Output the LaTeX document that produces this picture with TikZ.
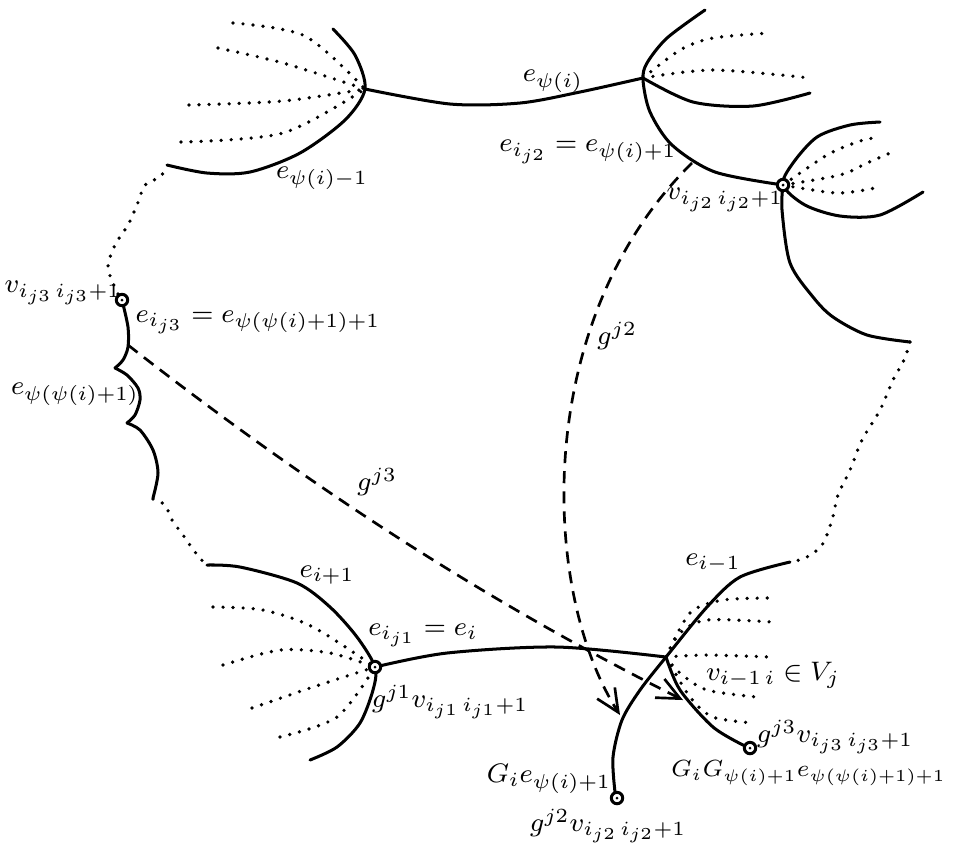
\documentclass[tikz,border=0pt]{standalone}
\usepackage{amsmath,amssymb}
\usetikzlibrary{arrows.meta}
\tikzset{
	>={Straight Barb[length=2.4mm,width=2.2mm]},
	edge/.style={black, line width=0.9pt, line cap=round},
	fan/.style={black, line width=1.1pt, line cap=round, dash pattern=on 0pt off 3pt},
	gmap/.style={black, line width=0.8pt, dash pattern=on 3.6pt off 2.4pt, ->},
	vtx/.style={circle, draw, line width=0.9pt, fill=white, inner sep=0pt, minimum size=3.4pt},
	lab/.style={inner sep=1pt, font=\fontsize{8.1pt}{10pt}\selectfont}
}

\begin{document}
\begin{tikzpicture}[x=0.0105cm, y=-0.0105cm]
	\useasboundingbox (0,0) rectangle (955,851);
	
	% top left fan
	\draw[edge] plot[smooth] coordinates {(333,29) (355,55) (365,89) (345,120) (300,153) (250,172) (207,173) (167,165)};
	\foreach \ex/\ey/\mx/\my in {233/23/305/36, 218/48/283/63, 189/105/283/101, 181/142/283/133}
		\draw[fan] plot[smooth] coordinates {(\ex,\ey) (\mx,\my) (365,89)};
	
	% edge between the two top vertices
	\draw[edge] plot[smooth] coordinates {(365,89) (450,104) (520,103) (580,92) (643,78)};
	
	% top right fan
	\draw[edge] plot[smooth] coordinates {(705,10) (667,38) (647,63) (643,80) (650,112) (672,145) (715,172) (783,185)};
	\draw[edge] plot[smooth] coordinates {(643,78) (693,102) (753,106) (810,93)};
	\draw[fan] plot[smooth] coordinates {(643,78) (680,50) (713,38) (770,33)};
	\draw[fan] plot[smooth] coordinates {(643,78) (713,70) (810,78)};
	
	% small fan at v_{i_{j2} i_{j2}+1}
	\draw[edge] plot[smooth] coordinates {(880,122) (850,125) (817,137) (793,163) (783,185) (805,205) (840,216) (880,215) (923,192)};
	\draw[fan] plot[smooth] coordinates {(783,185) (827,155) (857,142) (873,138)};
	\draw[fan] plot[smooth] coordinates {(783,185) (840,175) (867,163) (890,153)};
	\draw[fan] plot[smooth] coordinates {(783,185) (837,193) (875,188)};
	\draw[edge] plot[smooth] coordinates {(783,185) (782,210) (790,263) (813,297) (833,317) (867,335) (910,342)};
	
	% right dotted path
	\draw[fan] plot[smooth] coordinates {(910,342) (904,360) (893,380) (880,410) (862,440) (850,470) (838,495) (832,520) (822,545) (805,558) (790,562)};
	
	% bottom right fan
	\draw[edge] plot[smooth] coordinates {(790,562) (740,577) (707,607) (666,657) (640,690) (622,720) (613,757) (615,792)};
	\draw[edge] plot[smooth] coordinates {(666,657) (680,690) (713,727) (745,746)};
	\draw[fan] plot[smooth] coordinates {(666,657) (690,613) (723,600) (773,598)};
	\draw[fan] plot[smooth] coordinates {(666,657) (680,633) (707,620) (773,622)};
	\draw[fan] plot[smooth] coordinates {(666,657) (707,655) (770,657)};
	\draw[fan] plot[smooth] coordinates {(666,657) (680,673) (707,690) (757,697)};
	\draw[fan] plot[smooth] coordinates {(666,657) (690,697) (713,717) (753,723)};
	
	% edge e_i
	\draw[edge] plot[smooth] coordinates {(375,667) (447,653) (557,647) (666,657)};
	
	% bottom left fan
	\draw[edge] plot[smooth] coordinates {(207,565) (240,567) (297,583) (330,607) (357,637) (375,667) (373,690) (360,723) (337,747) (310,760)};
	\draw[fan] plot[smooth] coordinates {(213,607) (263,610) (313,627) (375,667)};
	\draw[fan] plot[smooth] coordinates {(223,665) (280,650) (330,653) (375,667)};
	\draw[fan] plot[smooth] coordinates {(252,708) (313,687) (375,667)};
	\draw[fan] plot[smooth] coordinates {(280,737) (337,717) (375,667)};
	
	% left side
	\draw[edge] plot[smooth] coordinates {(122,300) (128,327) (128,347) (123,360) (115,368)};
	\draw[edge] plot[smooth] coordinates {(115,368) (127,375) (138,388) (140,400) (135,415) (127,423)};
	\draw[edge] plot[smooth] coordinates {(127,423) (140,430) (153,450) (158,473) (153,498)};
	\draw[fan] plot[smooth] coordinates {(118,294) (108,268) (115,245) (128,225) (137,205) (145,185) (160,177) (167,166)};
	\draw[fan] plot[smooth] coordinates {(153,499) (165,505) (172,520) (183,535) (195,552) (207,566)};
	
	% marked vertices
	\node[vtx] (vR) at (783,185) {};
	\node[vtx] (vL) at (122,300) {};
	\node[vtx] (vB) at (375,667) {};
	\node[vtx] (endA) at (617,798) {};
	\node[vtx] (endB) at (750,748) {};
	\foreach \p in {vR,vL,vB,endA,endB}
		\fill (\p) circle (0.45pt);
	
	% the maps g^{j2}, g^{j3}
	\coordinate (g2s) at (692,163);
	\coordinate (g2t) at (620,715);
	\coordinate (g3s) at (128,345);
	\coordinate (g3t) at (683,700);
	\draw[gmap] (g2s) .. controls (532,320) and (540,590) .. (g2t);
	\draw[gmap] (g3s) .. controls (328,501) and (500,608) .. (g3t);
	
	% labels
	\node[lab] (lPsiM) at (322,178) {$e_{\psi(i)-1}$};
	\node[lab] (lPsi) at (553,81) {$e_{\psi(i)}$};
	\node[lab] (lIj2) at (588,152) {$e_{i_{j2}}=e_{\psi(i)+1}$};
	\node[lab] (lVj2) at (725,200) {$v_{i_{j2}\,i_{j2}+1}$};
	\node[lab] (lVj3) at (63,293) {$v_{i_{j3}\,i_{j3}+1}$};
	\node[lab] (lIj3) at (258,322) {$e_{i_{j3}}=e_{\psi(\psi(i)+1)+1}$};
	\node[lab] (lPsiPsi) at (75,394) {$e_{\psi(\psi(i)+1)}$};
	\node[lab] (lG3) at (377,482) {$g^{j3}$};
	\node[lab] (lG2) at (617,336) {$g^{j2}$};
	\node[lab] (lIp) at (327,575) {$e_{i+1}$};
	\node[lab] (lIj1) at (423,635) {$e_{i_{j1}}=e_i$};
	\node[lab] (lGv1) at (450,702) {$g^{j1}v_{i_{j1}\,i_{j1}+1}$};
	\node[lab] (lIm) at (713,563) {$e_{i-1}$};
	\node[lab] (lVi) at (773,675) {$v_{i-1\,i}\in V_j$};
	\node[lab] (lGv3) at (835,737) {$g^{j3}v_{i_{j3}\,i_{j3}+1}$};
	\node[lab, anchor=east, font=\fontsize{7.5pt}{9pt}\selectfont] (lGG) at (950,773) {$G_iG_{\psi(i)+1}e_{\psi(\psi(i)+1)+1}$};
	\node[lab] (lGe) at (549,779) {$G_ie_{\psi(i)+1}$};
	\node[lab] (lGv2) at (608,826) {$g^{j2}v_{i_{j2}\,i_{j2}+1}$};
\end{tikzpicture}
\end{document}
